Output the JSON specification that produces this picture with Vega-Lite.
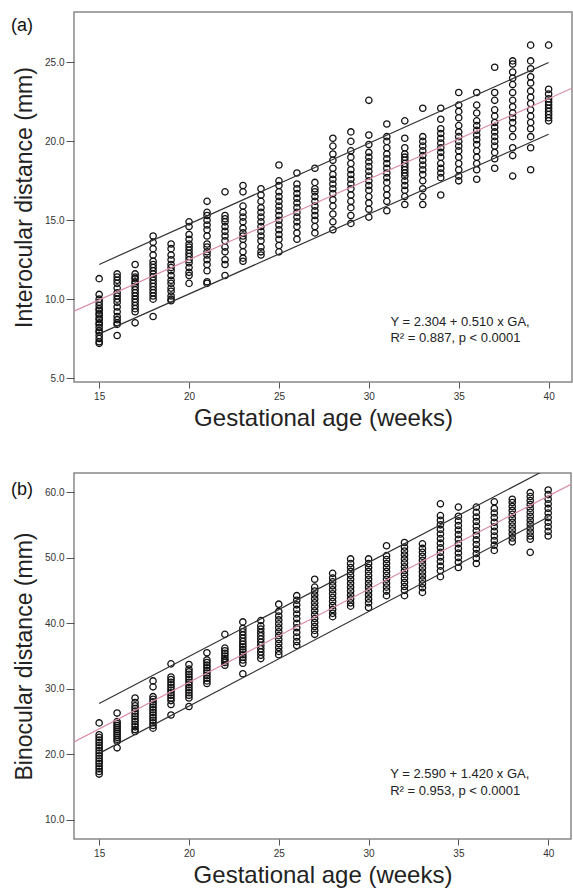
{
"$schema": "https://vega.github.io/schema/vega-lite/v6.json",
"padding": {"left": 10, "top": 11, "right": 0, "bottom": 0},
"background": "white",
"config": {
  "font": "Liberation Sans",
  "view": {"stroke": "#888", "strokeWidth": 1.5},
  "axis": {"grid": false, "domain": false, "tickColor": "#555", "labelColor": "#333", "labelFontSize": 10, "titleFontWeight": "normal", "titleColor": "#222"},
  "axisY": {"tickSize": 8, "labelPadding": 2, "titlePadding": 8, "titleFontSize": 23},
  "axisX": {"tickSize": 6, "labelPadding": 3, "titlePadding": 5, "titleFontSize": 24}
},
"datasets": {
"io": [
{"ga":15,"mm":11.3},{"ga":15,"mm":10.3},{"ga":15,"mm":10.0},{"ga":15,"mm":9.8},{"ga":15,"mm":9.6},{"ga":15,"mm":9.4},{"ga":15,"mm":9.3},{"ga":15,"mm":9.1},{"ga":15,"mm":9.0},{"ga":15,"mm":8.8},{"ga":15,"mm":8.7},{"ga":15,"mm":8.5},{"ga":15,"mm":8.4},{"ga":15,"mm":8.2},{"ga":15,"mm":8.0},{"ga":15,"mm":7.9},{"ga":15,"mm":7.7},{"ga":15,"mm":7.5},{"ga":15,"mm":7.3},{"ga":15,"mm":7.2},
{"ga":16,"mm":11.6},{"ga":16,"mm":11.4},{"ga":16,"mm":11.2},{"ga":16,"mm":11.0},{"ga":16,"mm":10.7},{"ga":16,"mm":10.4},{"ga":16,"mm":10.2},{"ga":16,"mm":10.0},{"ga":16,"mm":9.8},{"ga":16,"mm":9.5},{"ga":16,"mm":9.2},{"ga":16,"mm":8.9},{"ga":16,"mm":8.7},{"ga":16,"mm":8.5},{"ga":16,"mm":8.4},{"ga":16,"mm":7.7},
{"ga":17,"mm":12.2},{"ga":17,"mm":11.6},{"ga":17,"mm":11.4},{"ga":17,"mm":11.3},{"ga":17,"mm":11.1},{"ga":17,"mm":11.0},{"ga":17,"mm":10.8},{"ga":17,"mm":10.6},{"ga":17,"mm":10.4},{"ga":17,"mm":10.2},{"ga":17,"mm":10.0},{"ga":17,"mm":9.8},{"ga":17,"mm":9.6},{"ga":17,"mm":9.4},{"ga":17,"mm":9.2},{"ga":17,"mm":8.5},
{"ga":18,"mm":14.0},{"ga":18,"mm":13.6},{"ga":18,"mm":13.2},{"ga":18,"mm":12.8},{"ga":18,"mm":12.4},{"ga":18,"mm":12.2},{"ga":18,"mm":12.0},{"ga":18,"mm":11.8},{"ga":18,"mm":11.6},{"ga":18,"mm":11.4},{"ga":18,"mm":11.2},{"ga":18,"mm":11.0},{"ga":18,"mm":10.8},{"ga":18,"mm":10.6},{"ga":18,"mm":10.4},{"ga":18,"mm":10.2},{"ga":18,"mm":10.0},{"ga":18,"mm":8.9},
{"ga":19,"mm":13.5},{"ga":19,"mm":13.2},{"ga":19,"mm":12.8},{"ga":19,"mm":12.5},{"ga":19,"mm":12.2},{"ga":19,"mm":12.0},{"ga":19,"mm":11.8},{"ga":19,"mm":11.5},{"ga":19,"mm":11.2},{"ga":19,"mm":11.0},{"ga":19,"mm":10.7},{"ga":19,"mm":10.5},{"ga":19,"mm":10.2},{"ga":19,"mm":10.0},{"ga":19,"mm":9.9},
{"ga":20,"mm":14.9},{"ga":20,"mm":14.6},{"ga":20,"mm":14.1},{"ga":20,"mm":13.8},{"ga":20,"mm":13.5},{"ga":20,"mm":13.3},{"ga":20,"mm":13.1},{"ga":20,"mm":12.9},{"ga":20,"mm":12.7},{"ga":20,"mm":12.5},{"ga":20,"mm":12.3},{"ga":20,"mm":12.0},{"ga":20,"mm":11.7},{"ga":20,"mm":11.5},{"ga":20,"mm":11.0},
{"ga":21,"mm":16.2},{"ga":21,"mm":15.5},{"ga":21,"mm":15.3},{"ga":21,"mm":15.0},{"ga":21,"mm":14.7},{"ga":21,"mm":14.4},{"ga":21,"mm":14.0},{"ga":21,"mm":13.5},{"ga":21,"mm":13.3},{"ga":21,"mm":13.0},{"ga":21,"mm":12.8},{"ga":21,"mm":12.5},{"ga":21,"mm":12.2},{"ga":21,"mm":11.8},{"ga":21,"mm":11.1},{"ga":21,"mm":11.0},
{"ga":22,"mm":16.8},{"ga":22,"mm":15.3},{"ga":22,"mm":15.1},{"ga":22,"mm":14.9},{"ga":22,"mm":14.6},{"ga":22,"mm":14.3},{"ga":22,"mm":14.0},{"ga":22,"mm":13.7},{"ga":22,"mm":13.3},{"ga":22,"mm":13.0},{"ga":22,"mm":12.5},{"ga":22,"mm":12.2},{"ga":22,"mm":11.5},
{"ga":23,"mm":17.2},{"ga":23,"mm":16.8},{"ga":23,"mm":15.9},{"ga":23,"mm":15.5},{"ga":23,"mm":15.2},{"ga":23,"mm":14.9},{"ga":23,"mm":14.5},{"ga":23,"mm":14.2},{"ga":23,"mm":14.0},{"ga":23,"mm":13.8},{"ga":23,"mm":13.4},{"ga":23,"mm":13.0},{"ga":23,"mm":12.6},{"ga":23,"mm":12.4},
{"ga":24,"mm":17.0},{"ga":24,"mm":16.6},{"ga":24,"mm":16.2},{"ga":24,"mm":15.8},{"ga":24,"mm":15.5},{"ga":24,"mm":15.2},{"ga":24,"mm":14.9},{"ga":24,"mm":14.6},{"ga":24,"mm":14.3},{"ga":24,"mm":14.0},{"ga":24,"mm":13.7},{"ga":24,"mm":13.3},{"ga":24,"mm":13.0},{"ga":24,"mm":12.8},
{"ga":25,"mm":18.5},{"ga":25,"mm":17.5},{"ga":25,"mm":17.2},{"ga":25,"mm":16.8},{"ga":25,"mm":16.5},{"ga":25,"mm":16.2},{"ga":25,"mm":15.9},{"ga":25,"mm":15.6},{"ga":25,"mm":15.3},{"ga":25,"mm":15.0},{"ga":25,"mm":14.7},{"ga":25,"mm":14.4},{"ga":25,"mm":14.1},{"ga":25,"mm":13.8},{"ga":25,"mm":13.4},{"ga":25,"mm":13.0},
{"ga":26,"mm":18.0},{"ga":26,"mm":17.3},{"ga":26,"mm":17.0},{"ga":26,"mm":16.7},{"ga":26,"mm":16.4},{"ga":26,"mm":16.1},{"ga":26,"mm":15.8},{"ga":26,"mm":15.5},{"ga":26,"mm":15.2},{"ga":26,"mm":14.9},{"ga":26,"mm":14.6},{"ga":26,"mm":14.2},{"ga":26,"mm":13.8},
{"ga":27,"mm":18.3},{"ga":27,"mm":17.4},{"ga":27,"mm":17.0},{"ga":27,"mm":16.8},{"ga":27,"mm":16.5},{"ga":27,"mm":16.2},{"ga":27,"mm":15.9},{"ga":27,"mm":15.6},{"ga":27,"mm":15.3},{"ga":27,"mm":15.0},{"ga":27,"mm":14.6},{"ga":27,"mm":14.2},
{"ga":28,"mm":20.2},{"ga":28,"mm":19.7},{"ga":28,"mm":19.2},{"ga":28,"mm":18.8},{"ga":28,"mm":18.3},{"ga":28,"mm":17.9},{"ga":28,"mm":17.6},{"ga":28,"mm":17.3},{"ga":28,"mm":17.0},{"ga":28,"mm":16.7},{"ga":28,"mm":16.3},{"ga":28,"mm":15.9},{"ga":28,"mm":15.4},{"ga":28,"mm":14.9},{"ga":28,"mm":14.4},
{"ga":29,"mm":20.6},{"ga":29,"mm":20.0},{"ga":29,"mm":19.4},{"ga":29,"mm":19.0},{"ga":29,"mm":18.6},{"ga":29,"mm":18.2},{"ga":29,"mm":17.9},{"ga":29,"mm":17.6},{"ga":29,"mm":17.3},{"ga":29,"mm":17.0},{"ga":29,"mm":16.6},{"ga":29,"mm":16.2},{"ga":29,"mm":15.8},{"ga":29,"mm":15.3},{"ga":29,"mm":14.8},
{"ga":30,"mm":22.6},{"ga":30,"mm":20.4},{"ga":30,"mm":19.8},{"ga":30,"mm":19.3},{"ga":30,"mm":19.0},{"ga":30,"mm":18.7},{"ga":30,"mm":18.4},{"ga":30,"mm":18.1},{"ga":30,"mm":17.8},{"ga":30,"mm":17.5},{"ga":30,"mm":17.2},{"ga":30,"mm":16.9},{"ga":30,"mm":16.5},{"ga":30,"mm":16.1},{"ga":30,"mm":15.7},{"ga":30,"mm":15.2},
{"ga":31,"mm":21.1},{"ga":31,"mm":20.3},{"ga":31,"mm":20.0},{"ga":31,"mm":19.6},{"ga":31,"mm":19.2},{"ga":31,"mm":18.9},{"ga":31,"mm":18.6},{"ga":31,"mm":18.3},{"ga":31,"mm":18.0},{"ga":31,"mm":17.7},{"ga":31,"mm":17.4},{"ga":31,"mm":17.0},{"ga":31,"mm":16.6},{"ga":31,"mm":16.2},{"ga":31,"mm":15.6},
{"ga":32,"mm":21.3},{"ga":32,"mm":20.2},{"ga":32,"mm":19.6},{"ga":32,"mm":19.2},{"ga":32,"mm":19.0},{"ga":32,"mm":18.8},{"ga":32,"mm":18.6},{"ga":32,"mm":18.4},{"ga":32,"mm":18.2},{"ga":32,"mm":18.0},{"ga":32,"mm":17.8},{"ga":32,"mm":17.5},{"ga":32,"mm":17.2},{"ga":32,"mm":16.9},{"ga":32,"mm":16.5},{"ga":32,"mm":16.0},
{"ga":33,"mm":22.1},{"ga":33,"mm":20.3},{"ga":33,"mm":20.0},{"ga":33,"mm":19.7},{"ga":33,"mm":19.4},{"ga":33,"mm":19.1},{"ga":33,"mm":18.8},{"ga":33,"mm":18.5},{"ga":33,"mm":18.2},{"ga":33,"mm":17.9},{"ga":33,"mm":17.5},{"ga":33,"mm":17.0},{"ga":33,"mm":16.5},{"ga":33,"mm":16.0},
{"ga":34,"mm":22.1},{"ga":34,"mm":21.4},{"ga":34,"mm":20.8},{"ga":34,"mm":20.5},{"ga":34,"mm":20.2},{"ga":34,"mm":19.9},{"ga":34,"mm":19.6},{"ga":34,"mm":19.3},{"ga":34,"mm":19.0},{"ga":34,"mm":18.6},{"ga":34,"mm":18.3},{"ga":34,"mm":18.0},{"ga":34,"mm":17.7},{"ga":34,"mm":16.6},
{"ga":35,"mm":23.1},{"ga":35,"mm":22.3},{"ga":35,"mm":21.9},{"ga":35,"mm":21.5},{"ga":35,"mm":21.0},{"ga":35,"mm":20.6},{"ga":35,"mm":20.3},{"ga":35,"mm":20.0},{"ga":35,"mm":19.7},{"ga":35,"mm":19.4},{"ga":35,"mm":19.0},{"ga":35,"mm":18.6},{"ga":35,"mm":18.2},{"ga":35,"mm":17.8},{"ga":35,"mm":17.5},
{"ga":36,"mm":23.1},{"ga":36,"mm":22.3},{"ga":36,"mm":21.8},{"ga":36,"mm":21.3},{"ga":36,"mm":21.0},{"ga":36,"mm":20.7},{"ga":36,"mm":20.4},{"ga":36,"mm":20.1},{"ga":36,"mm":19.8},{"ga":36,"mm":19.4},{"ga":36,"mm":19.0},{"ga":36,"mm":18.6},{"ga":36,"mm":18.2},{"ga":36,"mm":17.6},
{"ga":37,"mm":24.7},{"ga":37,"mm":23.1},{"ga":37,"mm":22.6},{"ga":37,"mm":22.0},{"ga":37,"mm":21.6},{"ga":37,"mm":21.2},{"ga":37,"mm":20.9},{"ga":37,"mm":20.6},{"ga":37,"mm":20.3},{"ga":37,"mm":20.0},{"ga":37,"mm":19.7},{"ga":37,"mm":19.3},{"ga":37,"mm":18.9},{"ga":37,"mm":18.3},
{"ga":38,"mm":25.1},{"ga":38,"mm":24.9},{"ga":38,"mm":24.4},{"ga":38,"mm":24.0},{"ga":38,"mm":23.6},{"ga":38,"mm":23.1},{"ga":38,"mm":22.6},{"ga":38,"mm":22.2},{"ga":38,"mm":21.8},{"ga":38,"mm":21.5},{"ga":38,"mm":21.2},{"ga":38,"mm":20.8},{"ga":38,"mm":20.3},{"ga":38,"mm":19.6},{"ga":38,"mm":19.1},{"ga":38,"mm":17.8},
{"ga":39,"mm":26.1},{"ga":39,"mm":25.1},{"ga":39,"mm":24.6},{"ga":39,"mm":24.1},{"ga":39,"mm":23.7},{"ga":39,"mm":23.2},{"ga":39,"mm":22.8},{"ga":39,"mm":22.4},{"ga":39,"mm":22.0},{"ga":39,"mm":21.6},{"ga":39,"mm":21.2},{"ga":39,"mm":20.8},{"ga":39,"mm":20.3},{"ga":39,"mm":19.6},{"ga":39,"mm":18.2},
{"ga":40,"mm":26.1},{"ga":40,"mm":23.3},{"ga":40,"mm":23.0},{"ga":40,"mm":22.7},{"ga":40,"mm":22.5},{"ga":40,"mm":22.3},{"ga":40,"mm":22.1},{"ga":40,"mm":21.9},{"ga":40,"mm":21.7},{"ga":40,"mm":21.5},{"ga":40,"mm":21.3}
],
"bd": [
{"ga":15,"mm":24.8},{"ga":15,"mm":23.0},{"ga":15,"mm":22.6},{"ga":15,"mm":22.2},{"ga":15,"mm":21.8},{"ga":15,"mm":21.4},{"ga":15,"mm":21.0},{"ga":15,"mm":20.6},{"ga":15,"mm":20.2},{"ga":15,"mm":19.8},{"ga":15,"mm":19.4},{"ga":15,"mm":19.0},{"ga":15,"mm":18.6},{"ga":15,"mm":18.2},{"ga":15,"mm":17.8},{"ga":15,"mm":17.4},{"ga":15,"mm":17.0},
{"ga":16,"mm":26.3},{"ga":16,"mm":25.0},{"ga":16,"mm":24.7},{"ga":16,"mm":24.4},{"ga":16,"mm":24.1},{"ga":16,"mm":23.8},{"ga":16,"mm":23.5},{"ga":16,"mm":23.2},{"ga":16,"mm":22.9},{"ga":16,"mm":22.6},{"ga":16,"mm":22.3},{"ga":16,"mm":22.0},{"ga":16,"mm":21.0},
{"ga":17,"mm":28.6},{"ga":17,"mm":27.9},{"ga":17,"mm":27.4},{"ga":17,"mm":27.0},{"ga":17,"mm":26.6},{"ga":17,"mm":26.2},{"ga":17,"mm":25.8},{"ga":17,"mm":25.4},{"ga":17,"mm":25.0},{"ga":17,"mm":24.6},{"ga":17,"mm":24.2},{"ga":17,"mm":23.8},{"ga":17,"mm":23.5},
{"ga":18,"mm":31.2},{"ga":18,"mm":30.3},{"ga":18,"mm":28.8},{"ga":18,"mm":28.4},{"ga":18,"mm":28.0},{"ga":18,"mm":27.6},{"ga":18,"mm":27.2},{"ga":18,"mm":26.8},{"ga":18,"mm":26.4},{"ga":18,"mm":26.0},{"ga":18,"mm":25.6},{"ga":18,"mm":25.2},{"ga":18,"mm":24.8},{"ga":18,"mm":24.4},{"ga":18,"mm":24.0},
{"ga":19,"mm":33.8},{"ga":19,"mm":31.8},{"ga":19,"mm":31.4},{"ga":19,"mm":31.0},{"ga":19,"mm":30.6},{"ga":19,"mm":30.2},{"ga":19,"mm":29.8},{"ga":19,"mm":29.4},{"ga":19,"mm":29.0},{"ga":19,"mm":28.6},{"ga":19,"mm":28.2},{"ga":19,"mm":27.6},{"ga":19,"mm":26.0},
{"ga":20,"mm":33.7},{"ga":20,"mm":33.0},{"ga":20,"mm":32.6},{"ga":20,"mm":32.2},{"ga":20,"mm":31.8},{"ga":20,"mm":31.4},{"ga":20,"mm":31.0},{"ga":20,"mm":30.6},{"ga":20,"mm":30.2},{"ga":20,"mm":29.8},{"ga":20,"mm":29.4},{"ga":20,"mm":29.0},{"ga":20,"mm":28.6},{"ga":20,"mm":27.3},
{"ga":21,"mm":35.5},{"ga":21,"mm":34.4},{"ga":21,"mm":34.0},{"ga":21,"mm":33.6},{"ga":21,"mm":33.2},{"ga":21,"mm":32.8},{"ga":21,"mm":32.4},{"ga":21,"mm":32.0},{"ga":21,"mm":31.6},{"ga":21,"mm":31.2},{"ga":21,"mm":30.8},
{"ga":22,"mm":38.3},{"ga":22,"mm":36.2},{"ga":22,"mm":35.8},{"ga":22,"mm":35.4},{"ga":22,"mm":35.0},{"ga":22,"mm":34.6},{"ga":22,"mm":34.3},{"ga":22,"mm":34.0},{"ga":22,"mm":33.6},
{"ga":23,"mm":40.2},{"ga":23,"mm":39.2},{"ga":23,"mm":38.7},{"ga":23,"mm":38.2},{"ga":23,"mm":37.7},{"ga":23,"mm":37.2},{"ga":23,"mm":36.8},{"ga":23,"mm":36.4},{"ga":23,"mm":36.0},{"ga":23,"mm":35.6},{"ga":23,"mm":35.2},{"ga":23,"mm":34.8},{"ga":23,"mm":34.4},{"ga":23,"mm":33.9},{"ga":23,"mm":32.3},
{"ga":24,"mm":40.4},{"ga":24,"mm":39.6},{"ga":24,"mm":39.1},{"ga":24,"mm":38.6},{"ga":24,"mm":38.1},{"ga":24,"mm":37.6},{"ga":24,"mm":37.1},{"ga":24,"mm":36.6},{"ga":24,"mm":36.1},{"ga":24,"mm":35.6},{"ga":24,"mm":35.1},{"ga":24,"mm":34.6},
{"ga":25,"mm":42.9},{"ga":25,"mm":41.8},{"ga":25,"mm":41.1},{"ga":25,"mm":40.5},{"ga":25,"mm":39.9},{"ga":25,"mm":39.3},{"ga":25,"mm":38.7},{"ga":25,"mm":38.1},{"ga":25,"mm":37.5},{"ga":25,"mm":36.9},{"ga":25,"mm":36.3},{"ga":25,"mm":35.7},{"ga":25,"mm":35.2},
{"ga":26,"mm":44.2},{"ga":26,"mm":43.5},{"ga":26,"mm":42.8},{"ga":26,"mm":42.1},{"ga":26,"mm":41.4},{"ga":26,"mm":40.7},{"ga":26,"mm":40.0},{"ga":26,"mm":39.3},{"ga":26,"mm":38.6},{"ga":26,"mm":37.9},{"ga":26,"mm":37.2},{"ga":26,"mm":36.6},
{"ga":27,"mm":46.7},{"ga":27,"mm":45.5},{"ga":27,"mm":44.9},{"ga":27,"mm":44.3},{"ga":27,"mm":43.7},{"ga":27,"mm":43.1},{"ga":27,"mm":42.5},{"ga":27,"mm":41.9},{"ga":27,"mm":41.3},{"ga":27,"mm":40.7},{"ga":27,"mm":40.1},{"ga":27,"mm":39.5},{"ga":27,"mm":38.9},{"ga":27,"mm":38.3},
{"ga":28,"mm":47.6},{"ga":28,"mm":46.9},{"ga":28,"mm":46.3},{"ga":28,"mm":45.7},{"ga":28,"mm":45.1},{"ga":28,"mm":44.5},{"ga":28,"mm":43.9},{"ga":28,"mm":43.3},{"ga":28,"mm":42.7},{"ga":28,"mm":42.1},{"ga":28,"mm":41.5},{"ga":28,"mm":41.0},
{"ga":29,"mm":49.8},{"ga":29,"mm":49.1},{"ga":29,"mm":48.5},{"ga":29,"mm":47.9},{"ga":29,"mm":47.3},{"ga":29,"mm":46.7},{"ga":29,"mm":46.1},{"ga":29,"mm":45.5},{"ga":29,"mm":44.9},{"ga":29,"mm":44.3},{"ga":29,"mm":43.7},{"ga":29,"mm":43.1},{"ga":29,"mm":42.6},
{"ga":30,"mm":49.8},{"ga":30,"mm":49.1},{"ga":30,"mm":48.5},{"ga":30,"mm":47.9},{"ga":30,"mm":47.3},{"ga":30,"mm":46.7},{"ga":30,"mm":46.1},{"ga":30,"mm":45.5},{"ga":30,"mm":44.9},{"ga":30,"mm":44.3},{"ga":30,"mm":43.7},{"ga":30,"mm":43.1},{"ga":30,"mm":42.4},
{"ga":31,"mm":51.8},{"ga":31,"mm":50.3},{"ga":31,"mm":49.7},{"ga":31,"mm":49.1},{"ga":31,"mm":48.5},{"ga":31,"mm":47.9},{"ga":31,"mm":47.3},{"ga":31,"mm":46.7},{"ga":31,"mm":46.1},{"ga":31,"mm":45.5},{"ga":31,"mm":44.9},{"ga":31,"mm":44.2},
{"ga":32,"mm":52.3},{"ga":32,"mm":51.6},{"ga":32,"mm":51.0},{"ga":32,"mm":50.4},{"ga":32,"mm":49.8},{"ga":32,"mm":49.2},{"ga":32,"mm":48.6},{"ga":32,"mm":48.0},{"ga":32,"mm":47.4},{"ga":32,"mm":46.8},{"ga":32,"mm":46.2},{"ga":32,"mm":45.6},{"ga":32,"mm":45.0},{"ga":32,"mm":44.2},
{"ga":33,"mm":52.1},{"ga":33,"mm":51.4},{"ga":33,"mm":50.8},{"ga":33,"mm":50.2},{"ga":33,"mm":49.6},{"ga":33,"mm":49.0},{"ga":33,"mm":48.4},{"ga":33,"mm":47.8},{"ga":33,"mm":47.2},{"ga":33,"mm":46.6},{"ga":33,"mm":46.0},{"ga":33,"mm":45.4},{"ga":33,"mm":44.7},
{"ga":34,"mm":58.2},{"ga":34,"mm":56.4},{"ga":34,"mm":55.7},{"ga":34,"mm":55.0},{"ga":34,"mm":54.3},{"ga":34,"mm":53.6},{"ga":34,"mm":52.9},{"ga":34,"mm":52.2},{"ga":34,"mm":51.5},{"ga":34,"mm":50.8},{"ga":34,"mm":50.1},{"ga":34,"mm":49.4},{"ga":34,"mm":48.7},{"ga":34,"mm":48.0},{"ga":34,"mm":47.1},
{"ga":35,"mm":57.7},{"ga":35,"mm":56.3},{"ga":35,"mm":55.6},{"ga":35,"mm":54.9},{"ga":35,"mm":54.2},{"ga":35,"mm":53.5},{"ga":35,"mm":52.8},{"ga":35,"mm":52.1},{"ga":35,"mm":51.4},{"ga":35,"mm":50.7},{"ga":35,"mm":50.0},{"ga":35,"mm":49.3},{"ga":35,"mm":48.5},
{"ga":36,"mm":57.7},{"ga":36,"mm":56.9},{"ga":36,"mm":56.2},{"ga":36,"mm":55.5},{"ga":36,"mm":54.8},{"ga":36,"mm":54.1},{"ga":36,"mm":53.4},{"ga":36,"mm":52.7},{"ga":36,"mm":52.0},{"ga":36,"mm":51.3},{"ga":36,"mm":50.6},{"ga":36,"mm":49.9},{"ga":36,"mm":49.1},
{"ga":37,"mm":58.5},{"ga":37,"mm":57.5},{"ga":37,"mm":56.8},{"ga":37,"mm":56.1},{"ga":37,"mm":55.4},{"ga":37,"mm":54.7},{"ga":37,"mm":54.0},{"ga":37,"mm":53.3},{"ga":37,"mm":52.6},{"ga":37,"mm":51.9},{"ga":37,"mm":51.1},
{"ga":38,"mm":58.9},{"ga":38,"mm":58.4},{"ga":38,"mm":57.8},{"ga":38,"mm":57.2},{"ga":38,"mm":56.6},{"ga":38,"mm":56.0},{"ga":38,"mm":55.4},{"ga":38,"mm":54.8},{"ga":38,"mm":54.2},{"ga":38,"mm":53.6},{"ga":38,"mm":53.0},{"ga":38,"mm":52.4},
{"ga":39,"mm":59.9},{"ga":39,"mm":59.3},{"ga":39,"mm":58.7},{"ga":39,"mm":58.1},{"ga":39,"mm":57.5},{"ga":39,"mm":56.9},{"ga":39,"mm":56.3},{"ga":39,"mm":55.7},{"ga":39,"mm":55.1},{"ga":39,"mm":54.5},{"ga":39,"mm":53.9},{"ga":39,"mm":53.3},{"ga":39,"mm":52.8},{"ga":39,"mm":50.8},
{"ga":40,"mm":60.3},{"ga":40,"mm":59.6},{"ga":40,"mm":58.9},{"ga":40,"mm":58.2},{"ga":40,"mm":57.5},{"ga":40,"mm":56.8},{"ga":40,"mm":56.1},{"ga":40,"mm":55.4},{"ga":40,"mm":54.7},{"ga":40,"mm":54.0},{"ga":40,"mm":53.3}
],
"ioLines": [
{"line":"fit","ga":13.6,"mm":9.24},{"line":"fit","ga":41.3,"mm":23.37},
{"line":"upper","ga":15,"mm":12.2},{"line":"upper","ga":40,"mm":25.0},
{"line":"lower","ga":15,"mm":7.8},{"line":"lower","ga":40,"mm":20.45}
],
"bdLines": [
{"line":"fit","ga":13.6,"mm":21.9},{"line":"fit","ga":41.27,"mm":61.19},
{"line":"upper","ga":15,"mm":27.75},{"line":"upper","ga":40,"mm":63.6},
{"line":"lower","ga":15,"mm":20.15},{"line":"lower","ga":40,"mm":56.2}
],
"ioNote": [
{"ga":31.2,"mm":8.54,"label":"Y = 2.304 + 0.510 x GA,"},
{"ga":31.2,"mm":7.53,"label":"R² = 0.887, p < 0.0001"}
],
"bdNote": [
{"ga":31.2,"mm":16.96,"label":"Y = 2.590 + 1.420 x GA,"},
{"ga":31.2,"mm":14.38,"label":"R² = 0.953, p < 0.0001"}
]
},
"vconcat": [
{
"width": 498, "height": 370,
"title": {"text": "(a)", "anchor": "start", "frame": "group", "dx": -63, "dy": 27, "fontSize": 18, "fontWeight": "normal", "color": "#111", "font": "Liberation Sans"},
"layer": [
{"data": {"name": "io"}, "mark": {"type": "point", "shape": "circle", "filled": false, "size": 40, "stroke": "#111", "strokeWidth": 1.3, "opacity": 1},
 "encoding": {
  "x": {"field": "ga", "type": "quantitative", "scale": {"domain": [13.6, 41.3], "zero": false, "nice": false}, "axis": {"values": [15,20,25,30,35,40], "title": "Gestational age (weeks)"}},
  "y": {"field": "mm", "type": "quantitative", "scale": {"domain": [4.75, 28.2], "zero": false, "nice": false}, "axis": {"values": [5,10,15,20,25], "format": ".1f", "title": "Interocular distance (mm)"}}
 }},
{"data": {"name": "ioLines"}, "mark": {"type": "line", "clip": true, "strokeWidth": 1.2},
 "encoding": {
  "x": {"field": "ga", "type": "quantitative"},
  "y": {"field": "mm", "type": "quantitative"},
  "detail": {"field": "line"},
  "color": {"field": "line", "type": "nominal", "scale": {"domain": ["fit","upper","lower"], "range": ["#d98aa6","#333333","#333333"]}, "legend": null}
 }},
{"data": {"name": "ioNote"}, "mark": {"type": "text", "align": "left", "baseline": "middle", "fontSize": 13, "color": "#222"},
 "encoding": {
  "x": {"field": "ga", "type": "quantitative"},
  "y": {"field": "mm", "type": "quantitative"},
  "text": {"field": "label"}
 }}
]
},
{
"width": 497, "height": 366,
"title": {"text": "(b)", "anchor": "start", "frame": "group", "dx": -63, "dy": 30, "fontSize": 18, "fontWeight": "normal", "color": "#111", "font": "Liberation Sans"},
"layer": [
{"data": {"name": "bd"}, "mark": {"type": "point", "shape": "circle", "filled": false, "size": 40, "stroke": "#111", "strokeWidth": 1.3, "opacity": 1},
 "encoding": {
  "x": {"field": "ga", "type": "quantitative", "scale": {"domain": [13.6, 41.27], "zero": false, "nice": false}, "axis": {"values": [15,20,25,30,35,40], "title": "Gestational age (weeks)"}},
  "y": {"field": "mm", "type": "quantitative", "scale": {"domain": [7.1, 62.9], "zero": false, "nice": false}, "axis": {"values": [10,20,30,40,50,60], "format": ".1f", "title": "Binocular distance (mm)"}}
 }},
{"data": {"name": "bdLines"}, "mark": {"type": "line", "clip": true, "strokeWidth": 1.2},
 "encoding": {
  "x": {"field": "ga", "type": "quantitative"},
  "y": {"field": "mm", "type": "quantitative"},
  "detail": {"field": "line"},
  "color": {"field": "line", "type": "nominal", "scale": {"domain": ["fit","upper","lower"], "range": ["#d98aa6","#333333","#333333"]}, "legend": null}
 }},
{"data": {"name": "bdNote"}, "mark": {"type": "text", "align": "left", "baseline": "middle", "fontSize": 13, "color": "#222"},
 "encoding": {
  "x": {"field": "ga", "type": "quantitative"},
  "y": {"field": "mm", "type": "quantitative"},
  "text": {"field": "label"}
 }}
]
}
],
"spacing": 91,
"bounds": "flush"
}
